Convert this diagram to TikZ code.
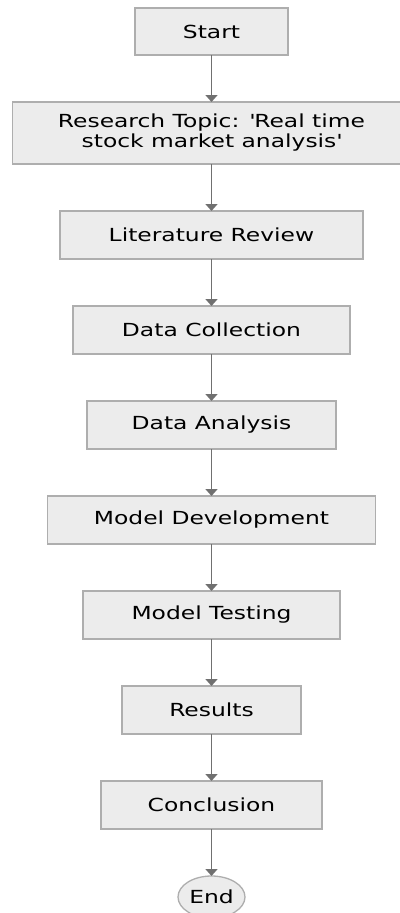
\documentclass[tikz,border=0pt]{standalone}
\usepackage{fontspec}
\setmainfont[FakeStretch=1.3]{DejaVu Sans}
\usetikzlibrary{positioning,arrows.meta,shapes.geometric}

\definecolor{boxfill}{HTML}{ECECEC}
\definecolor{boxline}{HTML}{AEAEAE}
\definecolor{flowline}{HTML}{707070}

\begin{document}
\begin{tikzpicture}[
  >={Triangle[width=12pt,length=7pt]},
  stepbox/.style={draw=boxline, fill=boxfill, line width=1.3pt, align=center,
                  font=\fontsize{18}{20}\selectfont, text=black,
                  minimum height=48pt, inner sep=0pt, outer sep=0pt},
  endcap/.style={ellipse, draw=boxline, fill=boxfill, line width=1.3pt,
                 font=\fontsize{18}{20}\selectfont, text=black,
                 minimum width=67pt, minimum height=42pt, inner sep=0pt, outer sep=0pt},
  flow/.style={draw=flowline, line width=1.6pt},
  node distance=47pt
]
  \useasboundingbox (0,0) rectangle (399pt,-913pt);

  \node[stepbox, minimum width=153pt, minimum height=47pt] (start) at (211.5pt,-31.5pt) {Start};
  \node[stepbox, minimum width=398pt, minimum height=62pt, below=of start] (topic)
    {Research Topic: \textquotesingle Real time\\stock market analysis\textquotesingle};
  \node[stepbox, minimum width=303pt, below=of topic] (review) {Literature Review};
  \node[stepbox, minimum width=277pt, below=of review] (collect) {Data Collection};
  \node[stepbox, minimum width=249pt, below=of collect] (analyse) {Data Analysis};
  \node[stepbox, minimum width=328pt, below=of analyse] (develop) {Model Development};
  \node[stepbox, minimum width=257pt, below=of develop] (testing) {Model Testing};
  \node[stepbox, minimum width=179pt, below=of testing] (results) {Results};
  \node[stepbox, minimum width=221pt, below=of results] (concl) {Conclusion};
  \node[endcap, below=of concl] (end) {End};

  \draw[flow,->] (start) -- (topic);
  \draw[flow,->] (topic) -- (review);
  \draw[flow,->] (review) -- (collect);
  \draw[flow,->] (collect) -- (analyse);
  \draw[flow,->] (analyse) -- (develop);
  \draw[flow,->] (develop) -- (testing);
  \draw[flow,->] (testing) -- (results);
  \draw[flow,->] (results) -- (concl);
  \draw[flow,->] (concl) -- (end);
\end{tikzpicture}
\end{document}
